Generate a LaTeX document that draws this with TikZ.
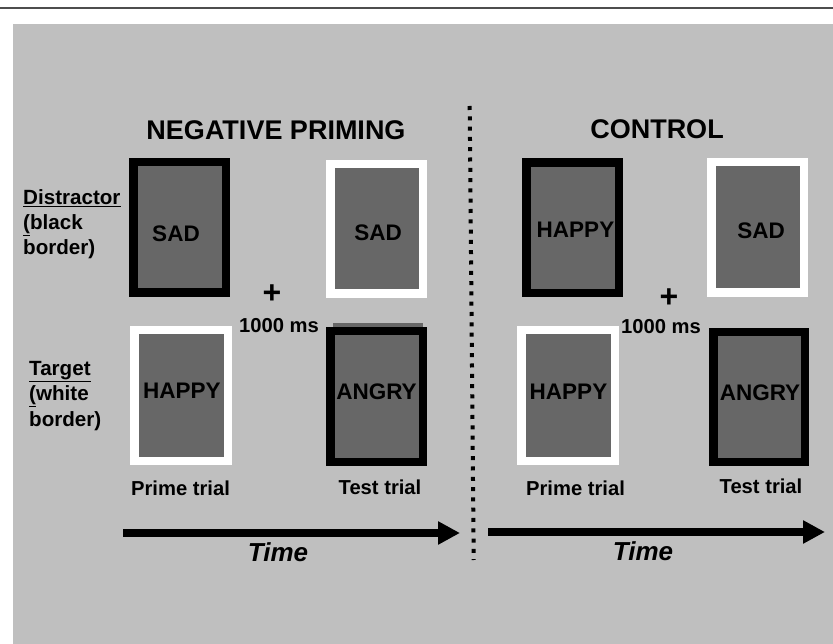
\documentclass[tikz,border=0pt]{standalone}
\usepackage{fontspec}
\setmainfont{Liberation Sans}
\usetikzlibrary{arrows.meta}
\definecolor{bggray}{HTML}{BFBFBF}
\definecolor{cardgray}{HTML}{676767}
\definecolor{rulegray}{HTML}{4D4D4D}
\tikzset{
  card/.style={fill=cardgray, line width=8.5pt, minimum width=92.5pt, minimum height=130.5pt, inner sep=0pt},
  blackcard/.style={card, draw=black},
  whitecard/.style={card, draw=white},
  word/.style={font=\fontsize{22.5}{22.5}\selectfont\bfseries, inner sep=0pt, anchor=center},
  title/.style={font=\fontsize{27}{27}\selectfont\bfseries, inner sep=0pt, anchor=base},
  small/.style={font=\fontsize{20.2}{20.2}\selectfont\bfseries, inner sep=0pt, anchor=base},
  side/.style={font=\fontsize{20.6}{25}\selectfont\bfseries, inner sep=0pt, anchor=base west, align=left},
  plus/.style={font=\fontsize{32}{32}\selectfont\bfseries, inner sep=0pt, anchor=center},
  timeword/.style={font=\fontsize{26}{26}\selectfont\bfseries\itshape, inner sep=0pt, anchor=base},
  timearrow/.style={line width=7.5pt, -{Triangle[length=22pt, width=22pt]}},
  divider/.style={line width=4pt, dash pattern=on 4pt off 6.3pt}
}
\begin{document}
\begin{tikzpicture}[x=1pt,y=-1pt]
\useasboundingbox (0,0) rectangle (833,644);
\fill[white] (0,0) rectangle (833,644);
\draw[rulegray, line width=2pt] (0,7.8) -- (833,7.8);
\fill[bggray] (13,24) rectangle (833,644);

% titles
\node[title] (np) at (276,140) {NEGATIVE PRIMING};
\node[title] (ctl) at (657,139) {CONTROL};

% side labels
\node[side] (dis) at (23,205) {\underline{Distractor}};
\node[side] (dis2) at (23,230) {\underline{(}black};
\node[side] (dis3) at (23,255) {border)};
\node[side] (tar) at (29,375) {\underline{Target}};
\node[side] (tar2) at (29,400.5) {\underline{(}white};
\node[side] (tar3) at (29,426) {border)};

% negative priming cards
\node[blackcard] (b1) at (179.5,227.5) {};
\node[whitecard, minimum height=129.5pt] (b2) at (376.5,229) {};
\node[whitecard, minimum width=93.5pt] (b3) at (181,395.5) {};
\fill[cardgray] (333,323) rectangle (423,328);
\node[blackcard] (b4) at (376.5,396.5) {};

\node[word] (w1) at (176,234) {SAD};
\node[word] (w2) at (378,233) {SAD};
\node[word] (w3) at (182,391) {HAPPY};
\node[word] (w4) at (376.5,392) {ANGRY};

% control cards
\node[blackcard] (b5) at (572.5,228) {};
\node[whitecard] (b6) at (757.5,227.5) {};
\node[whitecard, minimum width=93.5pt] (b7) at (568,395.5) {};
\node[blackcard, minimum width=91.5pt, minimum height=129.5pt] (b8) at (759,397) {};

\node[word] (w5) at (575.5,230) {HAPPY};
\node[word] (w6) at (761,231) {SAD};
\node[word] (w7) at (568.5,392) {HAPPY};
\node[word] (w8) at (760,393) {ANGRY};

% fixation and ISI
\node[plus] (p1) at (272,294) {+};
\node[small] (ms1) at (279,332.7) {1000 ms};
\node[plus] (p2) at (669,298) {+};
\node[small] (ms2) at (661,334) {1000 ms};

% trial labels
\node[small] (pt1) at (180.5,495) {Prime trial};
\node[small] (tt1) at (380,494) {Test trial};
\node[small] (pt2) at (575.5,495) {Prime trial};
\node[small] (tt2) at (761,493) {Test trial};

% time arrows
\coordinate (a1s) at (123,533);
\coordinate (a1e) at (460,533);
\coordinate (a2s) at (488,532);
\coordinate (a2e) at (825,532);
\draw[timearrow] (a1s) -- (a1e);
\draw[timearrow] (a2s) -- (a2e);
\node[timeword] (t1) at (278,561) {Time};
\node[timeword] (t2) at (643,560.5) {Time};

% divider
\coordinate (d1) at (469.7,106);
\coordinate (d2) at (473.7,560);
\draw[divider] (d1) -- (d2);
\end{tikzpicture}
\end{document}
